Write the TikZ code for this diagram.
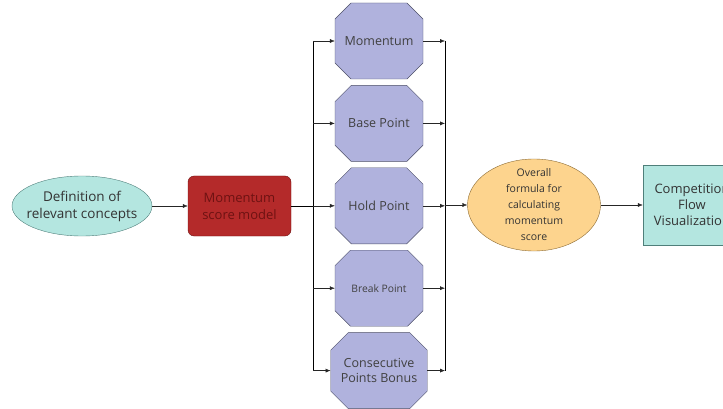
\documentclass[tikz,border=0pt]{standalone}
\usepackage{fontspec}
\setmainfont{Open Sans}
\usepackage{xcolor}
\usetikzlibrary{arrows.meta,positioning,shapes.geometric,shapes.misc}
\definecolor{tealfill}{HTML}{B4E6E0}
\definecolor{tealline}{HTML}{4F7F7A}
\definecolor{redfill}{HTML}{B42A2A}
\definecolor{redtext}{HTML}{6E1212}
\definecolor{lavfill}{HTML}{B0B2DD}
\definecolor{lavline}{HTML}{4A4C66}
\definecolor{orfill}{HTML}{FDD48E}
\definecolor{orline}{HTML}{8C6A32}

\begin{document}
\begin{tikzpicture}[
  x=1pt,y=-1pt,
  font=\fontsize{12.5}{15}\selectfont,
  node distance=6pt and 9mm,
  concept/.style={ellipse,draw=tealline,fill=tealfill,text=black!80,align=center,inner xsep=-8pt,inner ysep=2pt,minimum width=140pt,minimum height=60pt,font=\fontsize{13.5}{17}\selectfont},
  model/.style={draw=redtext,rounded corners=6pt,fill=redfill,text=redtext,align=center,minimum width=103pt,minimum height=60pt,font=\fontsize{13}{17}\selectfont},
  part/.style={chamfered rectangle,chamfered rectangle xsep=8pt,chamfered rectangle ysep=9.5pt,draw=lavline,fill=lavfill,text=black!75,align=center,minimum width=88pt,minimum height=76pt,inner sep=2pt},
  formula/.style={ellipse,draw=orline,fill=orfill,text=black!80,align=center,inner xsep=0pt,inner ysep=-6pt,minimum width=133pt,minimum height=92pt,font=\fontsize{10.5}{16}\selectfont},
  visual/.style={draw=tealline,fill=tealfill,text=black!80,align=center,minimum width=98pt,minimum height=80pt,font=\fontsize{13}{16}\selectfont},
  ar/.style={-{Latex[length=5pt,width=4pt]},draw=black!85}
]
\clip (0,0) rectangle (723,409);

\node[concept] (def) at (82,206) {Definition of\\relevant concepts};
\node[model] (msm) at (239.5,206) {Momentum\\score model};

\node[part] (mom) at (379,41) {Momentum};
\node[part,below=of mom] (base) {Base Point};
\node[part,below=of base] (hold) {Hold Point};
\node[part,below=of hold,font=\fontsize{10.3}{12}\selectfont] (brk) {Break Point};
\node[part,below=of brk] (cons) {Consecutive\\Points Bonus};

\node[formula] (ovr) at (534,205) {Overall\\formula for\\calculating\\momentum\\score};
\node[visual] (cfv) at (692,205) {Competition\\Flow\\Visualization};

\coordinate (bl) at (313,0);
\coordinate (br) at (445,0);

\draw[ar] (def) -- (msm);
\draw (msm.east) -- (msm.east -| bl);
\draw (bl |- mom.west) -- (bl |- cons.west);
\draw[ar] (bl |- mom.west) -- (mom.west);
\draw[ar] (bl |- base.west) -- (base.west);
\draw[ar] (bl |- hold.west) -- (hold.west);
\draw[ar] (bl |- brk.west) -- (brk.west);
\draw[ar] (bl |- cons.west) -- (cons.west);

\draw[ar] (mom.east) -- (mom.east -| br);
\draw[ar] (base.east) -- (base.east -| br);
\draw[ar] (hold.east) -- (hold.east -| br);
\draw[ar] (brk.east) -- (brk.east -| br);
\draw[ar] (cons.east) -- (cons.east -| br);
\draw (br |- mom.east) -- (br |- cons.east);
\draw[ar] (br |- ovr.west) -- (ovr.west);
\draw[ar] (ovr) -- (cfv);
\end{tikzpicture}
\end{document}
